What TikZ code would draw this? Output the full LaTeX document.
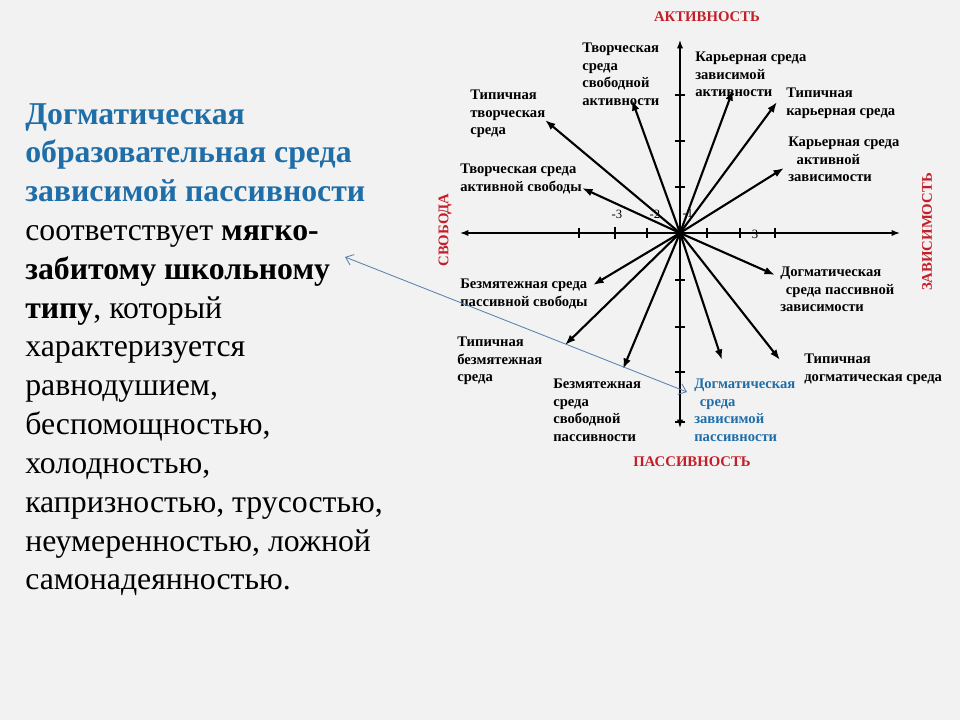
\documentclass[tikz,border=0pt]{standalone}
\usepackage{fontspec}
\setmainfont{Liberation Serif}
\usepackage{tikz}
\usetikzlibrary{arrows.meta}
\definecolor{bg}{RGB}{242,242,242}
\definecolor{titleblue}{RGB}{31,110,168}
\definecolor{axisred}{RGB}{196,30,40}
\definecolor{linkblue}{RGB}{92,128,176}
\begin{document}
\begin{tikzpicture}[x=0.025cm,y=-0.025cm,
  lbl/.style={anchor=north west,align=left,inner sep=0pt,font=\fontsize{10.4}{12.4}\selectfont\bfseries},
  axlbl/.style={text=axisred,inner sep=0pt,font=\fontsize{10.5}{11}\selectfont\bfseries},
  num/.style={inner sep=0pt,font=\fontsize{9}{10}\selectfont},
  ray/.style={line width=1.5pt,-{Latex[length=7.5pt,width=5.5pt]}},
  axis/.style={line width=1pt,{Latex[length=6pt,width=4.5pt]}-{Latex[length=6pt,width=4.5pt]}},
  link/.style={draw=linkblue,line width=0.6pt,{Straight Barb[length=5pt,width=8pt]}-{Straight Barb[length=5pt,width=8pt]}}]
\fill[bg] (0,0) rectangle (960,720);
% text on the left
\node[anchor=north west,align=left,inner sep=0pt,font=\fontsize{22.6}{27.6}\selectfont] (txt) at (25,103)
  {\textcolor{titleblue}{\textbf{Догматическая}}\\
   \textcolor{titleblue}{\textbf{образовательная среда}}\\
   \textcolor{titleblue}{\textbf{зависимой пассивности}}\\
   соответствует \textbf{мягко-}\\
   \textbf{забитому школьному}\\
   \textbf{типу}, который\\
   характеризуется\\
   равнодушием,\\
   беспомощностью,\\
   холодностью,\\
   капризностью, трусостью,\\
   неумеренностью, ложной\\
   самонадеянностью.};
% axes
\coordinate (O) at (680,233);
\coordinate (Xm) at (460,233);
\coordinate (Xp) at (900,233);
\coordinate (Yp) at (680,40);
\coordinate (Ym) at (680,428);
\draw[axis] (Xm) -- (Xp);
\draw[axis] (Ym) -- (Yp);
\foreach \y in {95,141,187,280,327,372,422} \draw[line width=0.8pt] (675,\y) -- (685,\y);
\foreach \x in {579,647,707,740,775} \draw[line width=0.8pt] (\x,228) -- (\x,238);
\draw[line width=1.5pt] (615,227) -- (615,239);
\node[num] (m3) at (617,214) {-3};
\node[num] (m2) at (655,214) {-2};
\node[num] (m1) at (688,213) {-1};
\node[num] (p3) at (755,234) {3};
\node[axlbl] (act) at (707,17) {АКТИВНОСТЬ};
\node[axlbl] (pas) at (692,462) {ПАССИВНОСТЬ};
\node[axlbl,rotate=90] (free) at (445,230) {СВОБОДА};
\node[axlbl,rotate=90] (dep) at (927,232) {ЗАВИСИМОСТЬ};
% arrow tips
\coordinate (a1) at (632,100);
\coordinate (a2) at (545,120);
\coordinate (a3) at (582,188);
\coordinate (a4) at (733,90);
\coordinate (a5) at (777,102);
\coordinate (a6) at (784,168);
\coordinate (a7) at (593,285);
\coordinate (a8) at (565,345);
\coordinate (a9) at (623,369);
\coordinate (a10) at (775,275);
\coordinate (a11) at (780,360);
\coordinate (a12) at (722,360);
\draw[ray] (O) -- (a1);
\draw[ray] (O) -- (a2);
\draw[ray] (O) -- (a3);
\draw[ray] (O) -- (a4);
\draw[ray] (O) -- (a5);
\draw[ray] (O) -- (a6);
\draw[ray] (O) -- (a7);
\draw[ray] (O) -- (a8);
\draw[ray] (O) -- (a9);
\draw[ray] (O) -- (a10);
\draw[ray] (O) -- (a11);
\draw[ray] (O) -- (a12);
% labels
\node[lbl] (l1) at (582,43) {Творческая\\среда\\свободной\\активности};
\node[lbl] (l2) at (470,90) {Типичная\\творческая\\среда};
\node[lbl] (l3) at (460,164) {Творческая среда\\активной свободы};
\node[lbl] (l4) at (695,52) {Карьерная среда\\зависимой\\активности};
\node[lbl] (l5) at (786,88) {Типичная\\карьерная среда};
\node[lbl] (l6) at (788,137) {Карьерная среда\\\hspace{6pt}активной\\зависимости};
\node[lbl] (l7) at (460,279) {Безмятежная среда\\пассивной свободы};
\node[lbl] (l8) at (457,337) {Типичная\\безмятежная\\среда};
\node[lbl] (l9) at (553,379) {Безмятежная\\среда\\свободной\\пассивности};
\node[lbl] (l10) at (780,267) {Догматическая\\\hspace{4pt}среда пассивной\\зависимости};
\node[lbl] (l11) at (804,354) {Типичная\\догматическая среда};
\node[lbl,text=titleblue] (l12) at (694,379) {Догматическая\\\hspace{4pt}среда\\зависимой\\пассивности};
% link
\coordinate (typeEnd) at (345,257);
\coordinate (envEnd) at (687,392);
\draw[link] (typeEnd) -- (envEnd);
\end{tikzpicture}
\end{document}
